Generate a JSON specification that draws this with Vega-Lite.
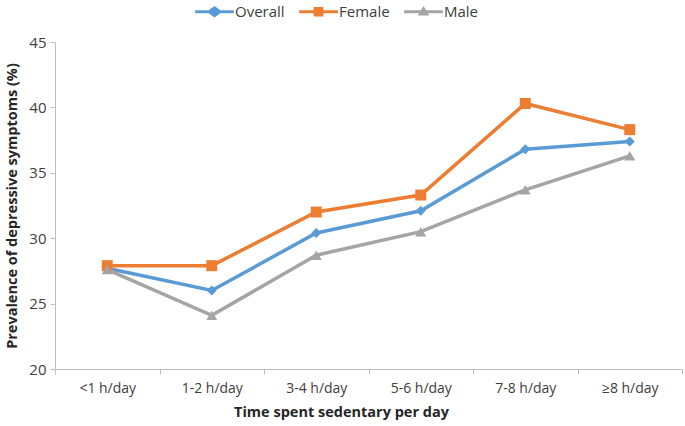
{
  "$schema": "https://vega.github.io/schema/vega-lite/v6.json",
  "width": 627,
  "height": 327,
  "autosize": {"type": "none"},
  "padding": {"left": 55, "top": 42, "right": 3, "bottom": 57},
  "background": "white",
  "config": {
    "view": {"stroke": null},
    "font": "Open Sans",
    "axis": {"grid": false, "domainColor": "#bfbfbf", "tickColor": "#bfbfbf", "labelColor": "#404040", "titleColor": "#262626", "labelFont": "Open Sans", "titleFont": "Open Sans"}
  },
  "data": {"values": [
    {"cat": "<1 h/day", "series": "Overall", "v": 27.7},
    {"cat": "1-2 h/day", "series": "Overall", "v": 26.0},
    {"cat": "3-4 h/day", "series": "Overall", "v": 30.4},
    {"cat": "5-6 h/day", "series": "Overall", "v": 32.1},
    {"cat": "7-8 h/day", "series": "Overall", "v": 36.8},
    {"cat": "≥8 h/day", "series": "Overall", "v": 37.4},
    {"cat": "<1 h/day", "series": "Female", "v": 27.9},
    {"cat": "1-2 h/day", "series": "Female", "v": 27.9},
    {"cat": "3-4 h/day", "series": "Female", "v": 32.0},
    {"cat": "5-6 h/day", "series": "Female", "v": 33.3},
    {"cat": "7-8 h/day", "series": "Female", "v": 40.3},
    {"cat": "≥8 h/day", "series": "Female", "v": 38.3},
    {"cat": "<1 h/day", "series": "Male", "v": 27.6},
    {"cat": "1-2 h/day", "series": "Male", "v": 24.1},
    {"cat": "3-4 h/day", "series": "Male", "v": 28.7},
    {"cat": "5-6 h/day", "series": "Male", "v": 30.5},
    {"cat": "7-8 h/day", "series": "Male", "v": 33.7},
    {"cat": "≥8 h/day", "series": "Male", "v": 36.3}
  ]},
  "encoding": {
    "x": {"field": "cat", "type": "ordinal", "sort": null,
      "scale": {"type": "band", "paddingInner": 0, "paddingOuter": 0},
      "axis": {"labelAngle": 0, "labelFontSize": 14, "labelPadding": 7, "tickBand": "extent", "tickSize": 5,
        "title": "Time spent sedentary per day", "titleFontSize": 14.5, "titleFontWeight": "bold", "titlePadding": 10, "titleX": 286}},
    "y": {"field": "v", "type": "quantitative",
      "scale": {"domain": [20, 45], "nice": false, "zero": false},
      "axis": {"values": [20, 25, 30, 35, 40, 45], "labelFontSize": 15, "tickSize": 5, "labelPadding": 4,
        "title": "Prevalence of depressive symptoms (%)", "titleFontSize": 14.5, "titleFontWeight": "bold", "titlePadding": 9}},
    "color": {"field": "series", "type": "nominal",
      "scale": {"domain": ["Overall", "Female", "Male"], "range": ["#5B9BD5", "#ED7D31", "#A5A5A5"]}}
  },
  "layer": [
    {"mark": {"type": "line", "strokeWidth": 3.5},
      "encoding": {"color": {"field": "series", "type": "nominal",
        "legend": {"orient": "none", "legendX": 140, "legendY": -50, "direction": "horizontal", "title": null,
          "labelFontSize": 15, "labelColor": "#404040", "symbolSize": 1500,
          "columnPadding": 14, "labelOffset": 1,
          "encode": {"symbols": {"update": {
            "shape": {"signal": "datum.value === 'Overall' ? 'M-1,-0.08H-0.3L0,-0.3L0.3,-0.08H1V0.08H0.3L0,0.3L-0.3,0.08H-1Z' : datum.value === 'Female' ? 'M-1,-0.08H-0.25V-0.25H0.25V-0.08H1V0.08H0.25V0.25H-0.25V0.08H-1Z' : 'M-1,-0.08H-0.132L0,-0.3L0.132,-0.08H1V0.08H0.228L0.3,0.2H-0.3L-0.228,0.08H-1Z'"},
            "fill": {"scale": "color", "field": "value"},
            "stroke": {"value": "transparent"},
            "strokeWidth": {"value": 0},
            "opacity": {"value": 1},
            "fillOpacity": {"value": 1}
          }}}}}}},
    {"transform": [{"filter": "datum.series === 'Overall'"}],
      "mark": {"type": "point", "filled": true, "opacity": 1, "size": 100, "shape": "diamond"},
      "encoding": {"color": {"field": "series", "type": "nominal"}}},
    {"transform": [{"filter": "datum.series === 'Female'"}],
      "mark": {"type": "point", "filled": true, "opacity": 1, "size": 120, "shape": "square"},
      "encoding": {"color": {"field": "series", "type": "nominal"}}},
    {"transform": [{"filter": "datum.series === 'Male'"}],
      "mark": {"type": "point", "filled": true, "opacity": 1, "size": 120, "shape": "triangle-up"},
      "encoding": {"color": {"field": "series", "type": "nominal"}}}
  ]
}
